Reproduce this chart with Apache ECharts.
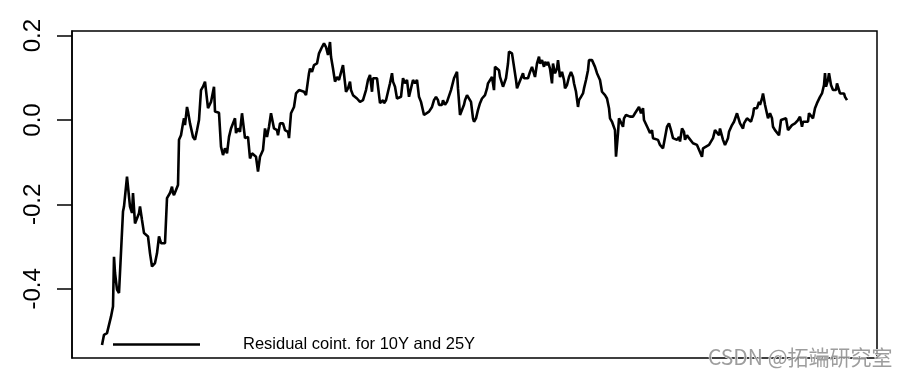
<!DOCTYPE html>
<html>
<head>
<meta charset="utf-8">
<script src="https://cdn.jsdelivr.net/npm/echarts@6/dist/echarts.min.js"></script>
<style>
  html, body { margin: 0; padding: 0; background: #fff; }
  #main { width: 897px; height: 378px; }
</style>
</head>
<body>
<div id="main"></div>
<script>
// observation number (x) and cointegration residual (y)
var obs = [
  0, 2, 5, 7, 9, 11, 12, 13, 15, 17,
  18, 21, 22, 25, 27, 28, 30, 31, 33, 34,
  37, 38, 40, 42, 44, 46, 48, 50, 52, 53,
  55, 57, 59, 61, 63, 65, 66, 68, 70, 71,
  72, 74, 76, 77, 79, 81, 82, 83, 85, 86,
  88, 91, 93, 95, 97, 98, 99, 101, 103, 105,
  106, 109, 112, 113, 117, 119, 121, 123, 125, 127,
  129, 131, 133, 134, 136, 138, 140, 143, 145, 146,
  148, 150, 152, 154, 156, 158, 161, 163, 165, 167,
  169, 172, 175, 176, 178, 181, 183, 186, 187, 189,
  192, 194, 197, 199, 202, 204, 207, 208, 210, 212,
  215, 217, 220, 222, 224, 226, 228, 229, 231, 233,
  235, 237, 239, 241, 242, 244, 246, 248, 249, 251,
  252, 255, 257, 258, 261, 262, 264, 266, 268, 270,
  271, 273, 275, 276, 278, 281, 282, 284, 286, 288,
  290, 291, 293, 295, 297, 299, 301, 303, 305, 307,
  309, 311, 313, 315, 317, 319, 321, 322, 324, 327,
  330, 332, 334, 336, 337, 340, 341, 343, 345, 347,
  349, 351, 352, 355, 356, 358, 360, 362, 363, 365,
  367, 369, 371, 372, 374, 376, 378, 380, 381, 383,
  385, 386, 388, 390, 392, 393, 395, 397, 398, 401,
  403, 404, 406, 407, 410, 412, 414, 415, 417, 419,
  421, 422, 424, 426, 428, 430, 432, 433, 435, 437,
  438, 440, 442, 443, 445, 446, 448, 450, 451, 453,
  455, 456, 458, 460, 462, 463, 465, 467, 469, 471,
  472, 474, 476, 477, 479, 481, 482, 484, 486, 487,
  490, 492, 493, 495, 497, 498, 500, 502, 503, 505,
  507, 508, 510, 512, 513, 514, 516, 517, 519, 521,
  522, 524, 526, 528, 531, 533, 535, 537, 539, 541,
  542, 544, 546, 548, 550, 551, 553, 556, 558, 561,
  563, 565, 567, 569, 571, 573, 575, 577, 578, 580,
  582, 583, 585, 587, 589, 591, 592, 595, 597, 600,
  601, 604, 607, 609, 611, 613, 615, 617, 618, 621,
  623, 626, 627, 630, 632, 635, 637, 638, 641, 642,
  645, 647, 649, 651, 652, 655, 657, 658, 660, 661,
  663, 666, 668, 670, 671, 673, 675, 677, 679, 681,
  684, 686, 688, 690, 692, 693, 695, 696, 698, 700,
  701, 703, 706, 707, 709, 711, 713, 715, 717, 718,
  720, 722, 723, 724, 726, 727, 729, 731, 732, 734,
  735, 737, 738, 740, 742, 743, 745
];
var resid = [
  -0.533, -0.509, -0.505, -0.507, -0.466, -0.442, -0.324, -0.362, -0.402, -0.410,
  -0.414, -0.217, -0.205, -0.134, -0.138, -0.205, -0.220, -0.173, -0.245, -0.249,
  -0.221, -0.205, -0.237, -0.268, -0.268, -0.276, -0.316, -0.347, -0.347, -0.339,
  -0.316, -0.276, -0.292, -0.296, -0.292, -0.185, -0.182, -0.173, -0.158, -0.173,
  -0.178, -0.166, -0.154, -0.047, -0.036, -0.008, 0.004, -0.012, 0.031, 0.020,
  -0.008, -0.040, -0.047, -0.024, 0.000, 0.004, 0.071, 0.079, 0.091, 0.087,
  0.028, 0.043, 0.079, 0.020, 0.017, -0.063, -0.083, -0.067, -0.079, -0.040,
  -0.020, -0.016, 0.004, -0.031, -0.020, -0.028, 0.016, -0.043, -0.047, -0.040,
  -0.091, -0.079, -0.083, -0.087, -0.122, -0.087, -0.071, -0.020, -0.040, -0.016,
  0.016, -0.020, -0.024, -0.036, -0.008, -0.008, -0.024, -0.028, -0.043, 0.016,
  0.031, 0.063, 0.071, 0.067, 0.067, 0.059, 0.111, 0.122, 0.114, 0.130,
  0.134, 0.158, 0.173, 0.182, 0.173, 0.154, 0.185, 0.150, 0.122, 0.091,
  0.102, 0.095, 0.099, 0.130, 0.126, 0.067, 0.075, 0.091, 0.071, 0.059,
  0.063, 0.051, 0.055, 0.043, 0.047, 0.043, 0.071, 0.095, 0.107, 0.067,
  0.099, 0.095, 0.099, 0.095, 0.040, 0.047, 0.040, 0.047, 0.067, 0.087,
  0.111, 0.091, 0.079, 0.051, 0.047, 0.055, 0.099, 0.087, 0.095, 0.055,
  0.059, 0.095, 0.087, 0.095, 0.055, 0.043, 0.043, 0.012, 0.016, 0.020,
  0.031, 0.047, 0.055, 0.047, 0.036, 0.036, 0.047, 0.036, 0.043, 0.040,
  0.071, 0.075, 0.099, 0.114, 0.075, 0.012, 0.008, 0.036, 0.047, 0.059,
  0.055, 0.043, 0.004, -0.004, 0.004, 0.024, 0.040, 0.051, 0.047, 0.059,
  0.075, 0.087, 0.091, 0.102, 0.071, 0.126, 0.130, 0.118, 0.102, 0.079,
  0.083, 0.099, 0.134, 0.162, 0.158, 0.154, 0.095, 0.075, 0.087, 0.091,
  0.111, 0.099, 0.102, 0.099, 0.114, 0.126, 0.122, 0.102, 0.134, 0.150,
  0.134, 0.142, 0.126, 0.138, 0.130, 0.138, 0.122, 0.087, 0.134, 0.111,
  0.122, 0.142, 0.102, 0.114, 0.095, 0.075, 0.083, 0.102, 0.114, 0.102,
  0.087, 0.067, 0.031, 0.047, 0.055, 0.063, 0.075, 0.095, 0.118, 0.142,
  0.142, 0.138, 0.126, 0.111, 0.114, 0.095, 0.067, 0.063, 0.059, 0.051,
  0.028, 0.004, -0.004, 0.000, -0.024, -0.087, -0.031, 0.004, 0.008, -0.016,
  0.004, 0.012, 0.016, 0.008, 0.008, 0.016, 0.020, 0.031, 0.016, 0.028,
  0.000, 0.004, -0.020, -0.031, -0.024, -0.043, -0.047, -0.047, -0.059, -0.067,
  -0.071, -0.016, -0.008, -0.024, -0.043, -0.043, -0.047, -0.040, -0.051, -0.020,
  -0.028, -0.047, -0.036, -0.043, -0.047, -0.055, -0.051, -0.059, -0.063, -0.087,
  -0.067, -0.063, -0.059, -0.059, -0.043, -0.024, -0.028, -0.036, -0.020, -0.047,
  -0.059, -0.043, -0.028, -0.012, -0.004, 0.016, 0.012, -0.008, -0.020, -0.008,
  0.004, 0.008, -0.004, 0.012, 0.028, 0.028, 0.043, 0.036, 0.051, 0.063,
  0.036, 0.004, 0.016, 0.004, -0.016, -0.024, -0.028, -0.036, 0.000, 0.004,
  0.004, -0.024, -0.020, -0.012, -0.016, -0.008, -0.012, 0.000, 0.008, -0.016,
  -0.004, -0.008, -0.004, 0.016, 0.012, 0.004, 0.028, 0.040, 0.043, 0.055,
  0.063, 0.083, 0.111, 0.079, 0.095, 0.111, 0.083, 0.071, 0.071, 0.071,
  0.087, 0.083, 0.063, 0.059, 0.063, 0.055, 0.047
];
var yTicks = [-0.4, -0.2, 0.0, 0.2];
var legendName = 'Residual coint. for 10Y and 25Y';

var chart = echarts.init(document.getElementById('main'), null, { renderer: 'canvas' });

var lineData = [];
for (var i = 0; i < obs.length; i++) {
  lineData.push([obs[i], resid[i]]);
}

chart.setOption({
  animation: false,
  backgroundColor: '#fff',
  textStyle: { fontFamily: 'Liberation Sans, Arial, sans-serif' },
  grid: {
    left: 72,
    right: 20,
    top: 31,
    bottom: 20,
    show: true,
    borderColor: '#000',
    borderWidth: 1.5
  },
  legend: {
    left: 113,
    top: 336,
    padding: 0,
    itemWidth: 87,
    itemHeight: 2.5,
    icon: 'rect',
    data: [legendName],
    textStyle: {
      color: '#000',
      fontSize: 16.5,
      fontFamily: 'Liberation Sans, Arial, sans-serif',
      padding: [0, 0, 0, 38]
    }
  },
  xAxis: {
    type: 'value',
    min: -30,
    max: 775,
    show: false
  },
  yAxis: {
    type: 'value',
    min: -0.564,
    max: 0.211,
    axisLine: { show: true, onZero: false, lineStyle: { color: '#000', width: 1.5 } },
    axisTick: {
      show: true,
      length: 15,
      customValues: yTicks,
      lineStyle: { color: '#000', width: 1.5 }
    },
    axisLabel: {
      customValues: yTicks,
      rotate: 90,
      margin: 27,
      fontSize: 24,
      color: '#000',
      formatter: function (v) { return v.toFixed(1); }
    },
    splitLine: { show: false }
  },
  graphic: [{
    type: 'text',
    right: 4,
    top: 346,
    style: {
      text: 'CSDN @拓端研究室',
      fontSize: 21,
      fontFamily: 'Noto Sans CJK SC, sans-serif',
      fill: 'rgba(140,140,140,0.85)',
      stroke: '#fff',
      lineWidth: 1
    }
  }],
  series: [{
    name: legendName,
    type: 'line',
    data: lineData,
    symbol: 'none',
    lineStyle: { color: '#000', width: 2.6 },
    itemStyle: { color: '#000' }
  }]
});
</script>
</body>
</html>
